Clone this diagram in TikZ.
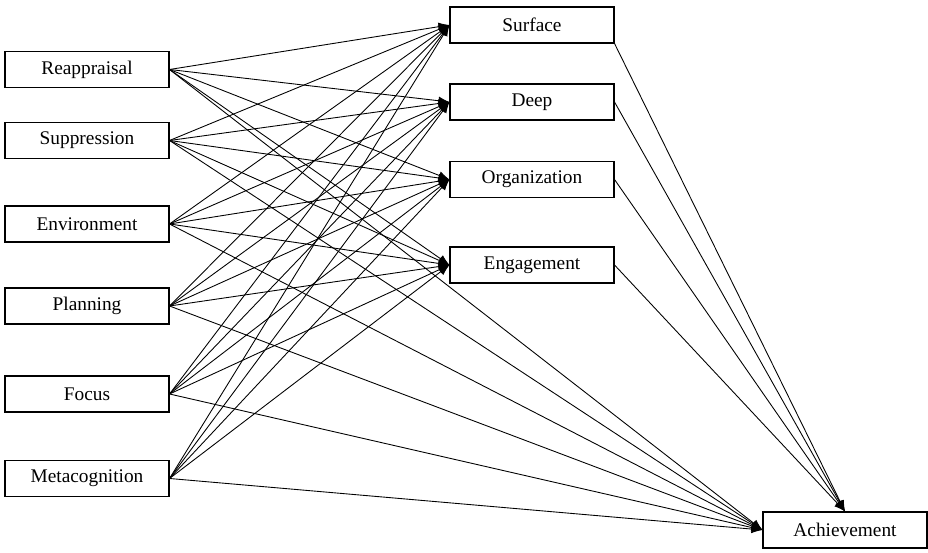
\documentclass[tikz,border=0pt]{standalone}
\usepackage{fontspec}
\setmainfont{Liberation Serif}
\usepackage{tikz}
\usetikzlibrary{positioning, arrows.meta}

\tikzset{
    var/.style={draw, semithick, minimum width=3.28cm, minimum height=0.72cm, inner sep=0pt, font=\fontsize{11}{13}\selectfont},
    path/.style={-{Latex[length=2.2mm, width=1.7mm]}, line width=0.5pt}
}

\begin{document}
\begin{tikzpicture}
        \useasboundingbox (0,0) rectangle (18.56,11.06);
        % strategies on the left
        \node[var] (reap) at (1.74,9.67) {Reappraisal};
        \node[var] (supp) at (1.74,8.25) {Suppression};
        \node[var] (env) at (1.74,6.58) {Environment};
        \node[var] (plan) at (1.74,4.94) {Planning};
        \node[var] (foc) at (1.74,3.18) {Focus};
        \node[var] (meta) at (1.74,1.49) {Metacognition};
        % approaches in the middle
        \node[var] (surf) at (10.64,10.56) {Surface};
        \node[var] (deep) at (10.64,9.02) {Deep};
        \node[var] (org) at (10.64,7.47) {Organization};
        \node[var] (eng) at (10.64,5.76) {Engagement};
        % outcome
        \node[var] (ach) at (16.90,0.46) {Achievement};

        \foreach \s in {reap,supp,env,plan,foc,meta} {
            \foreach \t in {surf,deep,org,eng}
                \draw[path] (\s.east)--(\t.west);
            \draw[path] (\s.east)--(ach.west);
        }
        \draw[path] (surf.south east)--(ach.north);
        \draw[path] (deep.east)--(ach.north);
        \draw[path] (org.east)--(ach.north);
        \draw[path] (eng.east)--(ach.north);
    \end{tikzpicture}
\end{document}
